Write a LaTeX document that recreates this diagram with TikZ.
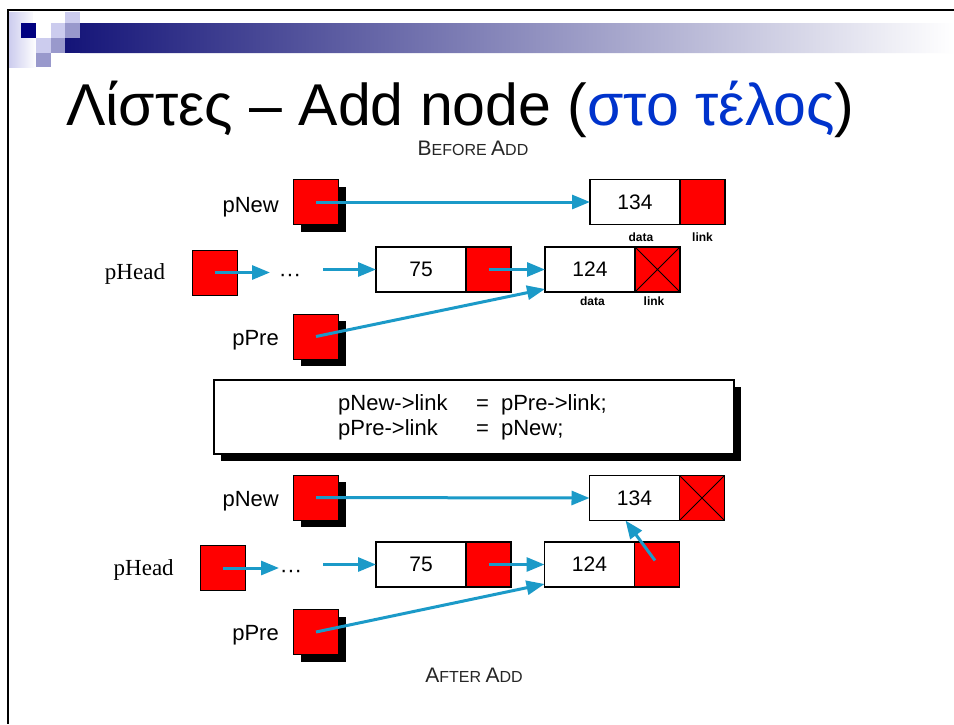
\documentclass[tikz,border=0pt]{standalone}
\usepackage{fontspec}
\setmainfont{Liberation Sans}
\newfontfamily\timesfont{Liberation Serif}
\usetikzlibrary{shadows,arrows.meta,calc}
\definecolor{ptrred}{RGB}{255,0,0}
\definecolor{arrowblue}{RGB}{27,154,200}
\definecolor{titleblue}{RGB}{0,51,204}
\definecolor{navy}{RGB}{0,0,128}
\definecolor{barnavy}{RGB}{20,20,120}
\definecolor{lav}{RGB}{204,204,238}
\definecolor{lavmid}{RGB}{153,153,204}
\newcommand\fsz[1]{\fontsize{#1}{#1}\selectfont}

\begin{document}
\begin{tikzpicture}[x=1pt,y=-1pt,
  ptr/.style={draw=black, line width=1pt, fill=ptrred, minimum size=45pt,
    inner sep=0pt, outer sep=0pt},
  ptrsh/.style={ptr, drop shadow={shadow xshift=7pt, shadow yshift=-7pt,
    fill=black, opacity=1}},
  datab/.style={draw=black, line width=1.2pt, fill=white, minimum width=90pt,
    minimum height=45pt, inner sep=0pt, outer sep=0pt, font=\fsz{21}},
  linkb/.style={draw=black, line width=1.2pt, fill=ptrred, minimum width=45pt,
    minimum height=45pt, inner sep=0pt, outer sep=0pt},
  nulllink/.style={linkb, path picture={
    \draw[line width=1pt] (path picture bounding box.north west) -- (path picture bounding box.south east)
      (path picture bounding box.north east) -- (path picture bounding box.south west);}},
  lbl/.style={font=\fsz{22}, inner sep=0pt},
  hlbl/.style={font=\timesfont\fsz{23}, inner sep=0pt},
  tiny/.style={font=\bfseries\fsz{12}, inner sep=0pt},
  dotsl/.style={font=\fsz{22}, inner sep=0pt},
  arr/.style={draw=arrowblue, line width=3pt, -{Triangle[length=18pt,width=14pt]}},
  codetxt/.style={font=\fsz{22}, inner sep=0pt, anchor=west},
  caption/.style={inner sep=0pt, text=black!85}
]
\useasboundingbox (0,0) rectangle (954,724);
\fill[white] (0,0) rectangle (954,724);

% slide decoration: gradient bar and squares
\shade[left color=barnavy, right color=white]
  (80,23) -- (954,23) -- (954,53) -- (65,53) -- (65,38) -- (80,38) -- cycle;
\shade[left color=lav, right color=white] (9,12) rectangle (36,67);
\fill[navy] (21,23) rectangle (36,38);
\fill[white] (36,23) rectangle (51,38);
\fill[white] (33,12) rectangle (64,23);
\fill[lav] (65,12) rectangle (80,23);
\fill[lav] (51,23) rectangle (65,38);
\fill[lavmid] (65,23) rectangle (80,38);
\fill[lav] (36,38) rectangle (51,53);
\fill[lavmid] (51,38) rectangle (65,53);
\fill[lavmid] (36,53) rectangle (51,67);
\fill[white] (51,53) rectangle (80,67);

% slide frame
\draw[line width=2.5pt] (7,10) -- (954,10);
\draw[line width=2.5pt] (8,9) -- (8,724);

% title
\node[anchor=base west, inner sep=0pt, font=\fsz{59}] (title) at (66,125)
  {Λίστες – Add node (\textcolor{titleblue}{στο τέλος})};

% ---------- before ----------
\node[caption] (before) at (473,148)
  {\fsz{21}B\fsz{16}EFORE \fsz{21}A\fsz{16}DD};

\node[ptrsh, anchor=north west] (pnewA) at (293.5,179.5) {};
\node[lbl, anchor=east] (pnewAl) at (279,207) {pNew};
\node[datab, anchor=north west] (d134a) at (590,179.5) {134};
\node[linkb, anchor=west] (l134a) at (d134a.east) {};
\node[tiny] (data1) at (641,237) {data};
\node[tiny] (link1) at (702.5,237) {link};

\node[ptr, anchor=north west] (pheadA) at (192,250) {};
\node[hlbl] (pheadAl) at (135,274) {pHead};
\coordinate (hA1) at (270,272.5);
\node[dotsl] (dotsA) at (290,278) {···};
\node[datab, anchor=north west] (d75a) at (376,247) {75};
\node[linkb, anchor=west] (l75a) at (d75a.east) {};
\coordinate (hA2) at (323,269.5);
\node[datab, anchor=north west] (d124a) at (545,247) {124};
\node[nulllink, anchor=west] (l124a) at (d124a.east) {};
\node[tiny] (data2) at (592.5,301) {data};
\node[tiny] (link2) at (654,301) {link};

\node[ptrsh, anchor=north west] (ppreA) at (293.5,314) {};
\node[lbl, anchor=east] (ppreAl) at (279,340) {pPre};

\draw[arr] (pnewA.center) -- (d134a.west);
\draw[arr] (pheadA.center) -- (hA1);
\draw[arr] (hA2) -- (d75a.west);
\draw[arr] (l75a.center) -- (d124a.west);
\draw[arr] (ppreA.center) -- ([yshift=3pt]d124a.south west);

% ---------- code ----------
\node[draw=black, line width=1.2pt, fill=white, minimum width=520pt, minimum height=74pt,
  inner sep=0pt, drop shadow={shadow xshift=7pt, shadow yshift=-7pt, fill=black, opacity=1}]
  (codebox) at (474,417) {};
\node[codetxt] (code1) at (338,405) {\makebox[138pt][l]{pNew->link}=\hspace{12pt}pPre->link;};
\node[codetxt] (code2) at (338,430) {\makebox[138pt][l]{pPre->link}=\hspace{12pt}pNew;};

% ---------- after ----------
\node[ptrsh, anchor=north west] (pnewB) at (293.5,475) {};
\node[lbl, anchor=east] (pnewBl) at (279,501) {pNew};
\node[datab, anchor=north west] (d134b) at (589.5,475.5) {134};
\node[nulllink, anchor=west] (l134b) at (d134b.east) {};

\node[ptr, anchor=north west] (pheadB) at (200,545.5) {};
\node[hlbl] (pheadBl) at (143.7,570) {pHead};
\coordinate (hB1) at (279,568);
\node[dotsl] (dotsB) at (291,574) {···};
\node[datab, anchor=north west] (d75b) at (376,542) {75};
\node[linkb, anchor=west] (l75b) at (d75b.east) {};
\coordinate (hB2) at (323,564.5);
\node[datab, anchor=north west] (d124b) at (544.5,542) {124};
\node[linkb, anchor=west] (l124b) at (d124b.east) {};

\node[ptrsh, anchor=north west] (ppreB) at (293.5,609.5) {};
\node[lbl, anchor=east] (ppreBl) at (279,635) {pPre};

\draw[arr] (pnewB.center) -- (d134b.west);
\draw[arr] (pheadB.center) -- (hB1);
\draw[arr] (hB2) -- (d75b.west);
\draw[arr] (l75b.center) -- (d124b.west);
\draw[arr] (ppreB.center) -- ([yshift=3pt]d124b.south west);
\draw[arr] ([xshift=-2pt,yshift=4pt]l124b.center) -- ([xshift=-9pt]d134b.south);

\node[caption] (after) at (474,675)
  {\fsz{21}A\fsz{16}FTER \fsz{21}A\fsz{16}DD};
\end{tikzpicture}
\end{document}
